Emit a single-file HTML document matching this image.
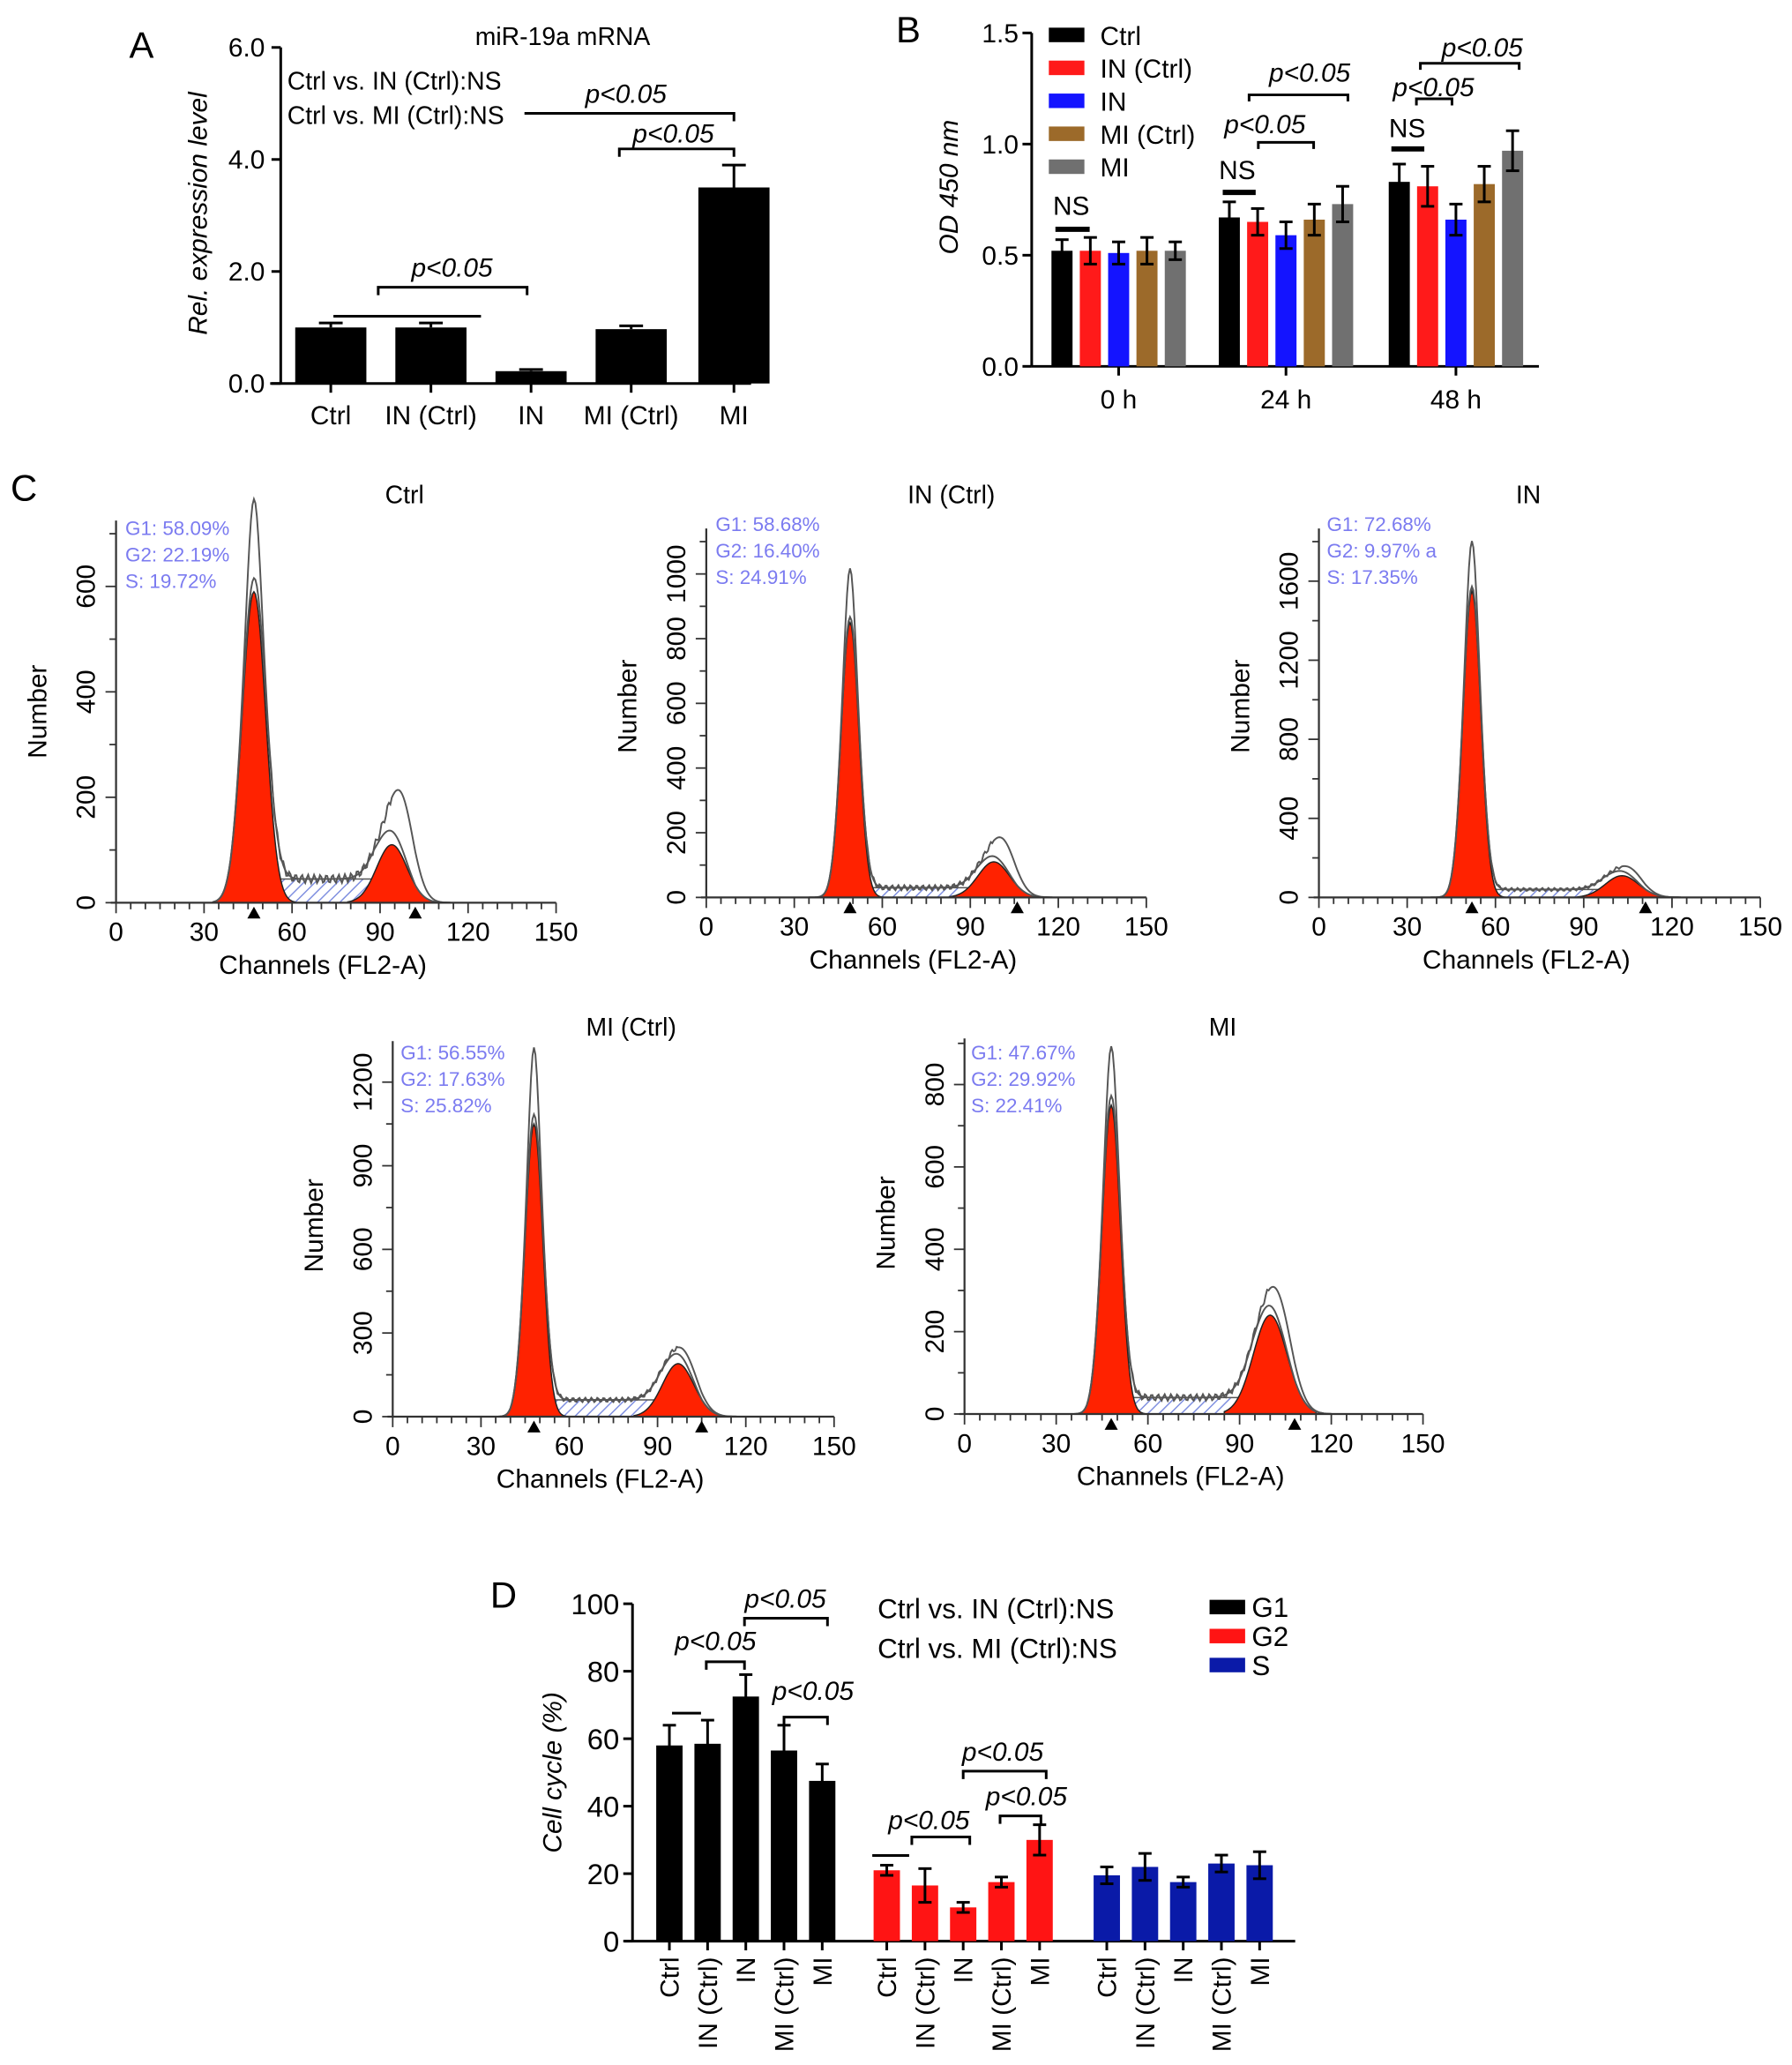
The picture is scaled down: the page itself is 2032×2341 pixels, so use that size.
<!DOCTYPE html>
<html><head><meta charset="utf-8">
<style>
html,body{margin:0;padding:0;background:#fff;}
svg{display:block;font-family:"Liberation Sans",Arial,sans-serif;}
</style></head>
<body>
<svg id="fig" width="2032" height="2341" viewBox="0 0 1360 1567" xmlns="http://www.w3.org/2000/svg">
<defs>
<pattern id="hatch" patternUnits="userSpaceOnUse" width="6" height="6" patternTransform="rotate(45)">
<rect width="6" height="6" fill="#fff"/>
<line x1="0" y1="0" x2="0" y2="6" stroke="#8090e0" stroke-width="2"/>
</pattern>
</defs>
<text x="98" y="44" font-size="28">A</text>
<text x="680" y="32" font-size="28">B</text>
<text x="8" y="380" font-size="28">C</text>
<text x="372" y="1220" font-size="28">D</text>
</svg>
<script>
const NS="http://www.w3.org/2000/svg";
const svg=document.getElementById('fig');
function mk(tag,attrs,parent,txt){const e=document.createElementNS(NS,tag);for(const k in attrs)e.setAttribute(k,attrs[k]);if(txt!==undefined)e.textContent=txt;(parent||svg).appendChild(e);return e;}

/* ---------- Panel A data ---------- */
const aCats=["Ctrl","IN (Ctrl)","IN","MI (Ctrl)","MI"];
const aVals=[1.0,1.0,0.22,0.97,3.5];
const aErrs=[0.08,0.08,0.03,0.06,0.4];
const aTicks=[0,2,4,6];
/* ---------- Panel B data ---------- */
const bGroups=["0 h","24 h","48 h"];
const bSeries=["Ctrl","IN (Ctrl)","IN","MI (Ctrl)","MI"];
const bCtrl=[0.52,0.67,0.83];
const bINc=[0.52,0.65,0.81];
const bIN=[0.51,0.59,0.66];
const bMIc=[0.52,0.66,0.82];
const bMI=[0.52,0.73,0.97];
const bErr=[[0.05,0.07,0.08],[0.06,0.06,0.09],[0.05,0.06,0.07],[0.06,0.07,0.08],[0.04,0.08,0.09]];
const bTicks=[0,0.5,1.0,1.5];
/* ---------- Panel D data ---------- */
const dCats=["Ctrl","IN (Ctrl)","IN","MI (Ctrl)","MI"];
const dG1=[58,58.5,72.5,56.5,47.5];
const dG1e=[6,7,6.5,7.5,5];
const dG2=[21,16.5,10,17.5,30];
const dG2e=[1.5,5,1.5,1.5,4.5];
const dS=[19.5,22,17.5,23,22.5];
const dSe=[2.5,4,1.5,2.5,4];
const dTicks=[0,20,40,60,80,100];
/* ---------- Panel C data ---------- */
const cTitles=["Ctrl","IN (Ctrl)","IN","MI (Ctrl)","MI"];
const cStats=[["G1: 58.09%","G2: 22.19%","S: 19.72%"],["G1: 58.68%","G2: 16.40%","S: 24.91%"],["G1: 72.68%","G2: 9.97% a","S: 17.35%"],["G1: 56.55%","G2: 17.63%","S: 25.82%"],["G1: 47.67%","G2: 29.92%","S: 22.41%"]];
const cG1Mean=[47,49,52,48,48];
const cG1Sd=[4,3,3,3,3];
const cG1Height=[590,850,1550,1050,750];
const cG1Raw=[740,1000,1780,1290,870];
const cG2Mean=[94,98,103,97,100];
const cG2Height=[110,110,110,190,240];
const cG2Raw=[215,190,150,230,310];
const cSLevel=[45,30,40,60,40];
const cYMax=[700,1100,1800,1300,880];
const cYTicks=[[0,200,400,600],[0,200,400,600,800,1000],[0,400,800,1200,1600],[0,300,600,900,1200],[0,200,400,600,800]];
const cXTicks=[0,30,60,90,120,150];

/* ---------- Panel A ---------- */
(function(){
  const x0=213,y0=291,yTop=36,xEnd=570;
  const ys=v=>y0-(v/6)*(y0-yTop);
  const xc=[251,327,403,479,557];
  mk('line',{x1:x0,y1:yTop,x2:x0,y2:y0,stroke:'#000','stroke-width':2});
  mk('line',{x1:205,y1:y0,x2:xEnd,y2:y0,stroke:'#000','stroke-width':2});
  aTicks.forEach(t=>{mk('line',{x1:x0-7,y1:ys(t),x2:x0,y2:ys(t),stroke:'#000','stroke-width':2});
    const l=mk('text',{x:x0-12,y:ys(t)+7,'font-size':20,'text-anchor':'end'},svg,t.toFixed(1));
    
    });
  aVals.forEach((v,i)=>{
    const b=mk('rect',{x:xc[i]-27,y:ys(v),width:54,height:y0-ys(v),fill:'#000'});
    
    
    mk('line',{x1:xc[i],y1:ys(v+aErrs[i]),x2:xc[i],y2:ys(v),stroke:'#000','stroke-width':2});
    mk('line',{x1:xc[i]-9,y1:ys(v+aErrs[i]),x2:xc[i]+9,y2:ys(v+aErrs[i]),stroke:'#000','stroke-width':2});
    mk('line',{x1:xc[i],y1:y0,x2:xc[i],y2:y0+7,stroke:'#000','stroke-width':2});
    const l=mk('text',{x:xc[i],y:322,'font-size':20,'text-anchor':'middle'},svg,aCats[i]);
    
    
  });
  const t=mk('text',{x:427,y:34,'font-size':19,'text-anchor':'middle'},svg,'miR-19a mRNA');
  
  
  const yl=mk('text',{x:0,y:0,'font-size':20,'font-style':'italic','text-anchor':'middle',transform:'translate(157,162) rotate(-90)'},svg,'Rel. expression level');
  
  
  mk('text',{x:218,y:68,'font-size':19},svg,'Ctrl vs. IN (Ctrl):NS');
  mk('text',{x:218,y:94,'font-size':19},svg,'Ctrl vs. MI (Ctrl):NS');
  mk('path',{d:'M253 240 H365',stroke:'#000','stroke-width':2,fill:'none'});
  mk('path',{d:'M287 224 V218 H400 V224',stroke:'#000','stroke-width':2,fill:'none'});
  mk('text',{x:343,y:210,'font-size':20,'font-style':'italic','text-anchor':'middle'},svg,'p<0.05');
  mk('path',{d:'M398 86 H557 V92',stroke:'#000','stroke-width':2,fill:'none'});
  mk('text',{x:475,y:78,'font-size':20,'font-style':'italic','text-anchor':'middle'},svg,'p<0.05');
  mk('path',{d:'M470 119 V113 H557 V119',stroke:'#000','stroke-width':2,fill:'none'});
  mk('text',{x:511,y:108,'font-size':20,'font-style':'italic','text-anchor':'middle'},svg,'p<0.05');
})();

/* ---------- Panel B ---------- */
(function(){
  const x0=783,y0=278,yTop=25,xEnd=1168;
  const ys=v=>y0-(v/1.5)*(y0-yTop);
  const gc=[849,976,1105];
  const cols=['#000','#ff1a1a','#1414ff','#9c6a2a','#707070'];
  const series=[bCtrl,bINc,bIN,bMIc,bMI];
  mk('line',{x1:x0,y1:yTop,x2:x0,y2:y0,stroke:'#000','stroke-width':2});
  mk('line',{x1:x0,y1:y0,x2:xEnd,y2:y0,stroke:'#000','stroke-width':2});
  bTicks.forEach(t=>{mk('line',{x1:x0-7,y1:ys(t),x2:x0,y2:ys(t),stroke:'#000','stroke-width':2});
    const l=mk('text',{x:x0-10,y:ys(t)+7,'font-size':20,'text-anchor':'end'},svg,t.toFixed(1));
    
    });
  bGroups.forEach((g,gi)=>{
    mk('line',{x1:gc[gi],y1:y0,x2:gc[gi],y2:y0+7,stroke:'#000','stroke-width':2});
    const l=mk('text',{x:gc[gi],y:310,'font-size':20,'text-anchor':'middle'},svg,g);
    
    
    series.forEach((s,si)=>{
      const cx=gc[gi]+(si-2)*21.5, v=s[gi], e=bErr[si][gi];
      const b=mk('rect',{x:cx-8,y:ys(v),width:16,height:y0-ys(v),fill:cols[si]});
      
      
      mk('line',{x1:cx,y1:ys(v+e),x2:cx,y2:ys(v-e),stroke:'#000','stroke-width':2});
      mk('line',{x1:cx-5,y1:ys(v+e),x2:cx+5,y2:ys(v+e),stroke:'#000','stroke-width':2});
      mk('line',{x1:cx-5,y1:ys(v-e),x2:cx+5,y2:ys(v-e),stroke:'#000','stroke-width':2});
    });
  });
  bSeries.forEach((s,si)=>{
    const r=mk('rect',{x:796,y:21+si*25,width:27,height:11,fill:cols[si]});
    
    
    const l=mk('text',{x:835,y:34+si*25,'font-size':20},svg,s);
    
    
  });
  const yl=mk('text',{x:0,y:0,'font-size':20,'font-style':'italic','text-anchor':'middle',transform:'translate(727,142) rotate(-90)'},svg,'OD 450 nm');
  
  
  const it=(x,y,t)=>mk('text',{x:x,y:y,'font-size':20,'font-style':'italic','text-anchor':'middle'},svg,t);
  mk('path',{d:'M801 174 H827',stroke:'#000','stroke-width':4});mk('text',{x:813,y:163,'font-size':20,'text-anchor':'middle'},svg,'NS');
  mk('path',{d:'M928 146 H953',stroke:'#000','stroke-width':4});mk('text',{x:939,y:136,'font-size':20,'text-anchor':'middle'},svg,'NS');
  mk('path',{d:'M1056 113 H1081',stroke:'#000','stroke-width':4});mk('text',{x:1068,y:104,'font-size':20,'text-anchor':'middle'},svg,'NS');
  mk('path',{d:'M955 113 V108 H997 V113',stroke:'#000','stroke-width':2,fill:'none'});it(960,101,'p<0.05');
  mk('path',{d:'M948 77 V72 H1023 V77',stroke:'#000','stroke-width':2,fill:'none'});it(994,62,'p<0.05');
  mk('path',{d:'M1075 80 V75 H1102 V80',stroke:'#000','stroke-width':2,fill:'none'});it(1088,73,'p<0.05');
  mk('path',{d:'M1078 53 V48 H1153 V53',stroke:'#000','stroke-width':2,fill:'none'});it(1125,43,'p<0.05');
})();

/* ---------- Panel C ---------- */
const cLayout=[{ax:88,ay:685,w:334,h:290,tx:307,ty:382,stx:95,sty:406},
 {ax:536,ay:681,w:334,h:280,tx:722,ty:382,stx:543,sty:403},
 {ax:1001,ay:681,w:335,h:280,tx:1160,ty:382,stx:1007,sty:403},
 {ax:298,ay:1075,w:335,h:285,tx:479,ty:786,stx:304,sty:804},
 {ax:732,ay:1073,w:348,h:285,tx:928,ty:786,stx:737,sty:804}];
function gauss(x,m,s){return Math.exp(-0.5*((x-m)/s)**2);}
cTitles.forEach((title,p)=>{
  const L=cLayout[p];
  const g=mk('g',{});
  
  
  const xs=c=>L.ax+c/150*L.w;
  const top=L.ay-L.h;
  const ys=v=>L.ay-v/cYMax[p]*(L.h-10);
  const m1=cG1Mean[p],m2=cG2Mean[p],sd1=cG1Sd[p],sd2=m2*0.055;
  const sFn=c=>{const lo=m1,hi=m2;if(c<lo-8||c>hi+8)return 0;return cSLevel[p]*Math.min(1,(c-(lo-8))/14)*Math.min(1,((hi+8)-c)/14);};
  const g1=c=>cG1Height[p]*gauss(c,m1,sd1);
  const g2=c=>cG2Height[p]*gauss(c,m2,sd2);
  let sP=`M${xs(m1-10)} ${L.ay}`,g1P=`M${xs(m1-14)} ${L.ay}`,g2P=`M${xs(m2-15)} ${L.ay}`,tot='',raw='';
  for(let c=m1-14;c<=m2+20;c+=0.5){
    const t=g1(c)+g2(c)+sFn(c);
    tot+=(tot?'L':'M')+xs(c)+' '+ys(t);
    const bump=(cG1Raw[p]-cG1Height[p])*gauss(c,m1,sd1*0.5);
    const bump2=(cG2Raw[p]-cG2Height[p])*gauss(c,m2+4,4);
    raw+=(raw?'L':'M')+xs(c)+' '+ys(t+bump+bump2+(c>m1+5&&c<m2?8*Math.sin(c*3):0));
  }
  for(let c=m1-10;c<=m2+8;c+=0.5)sP+=`L${xs(c)} ${ys(sFn(c))}`;
  sP+=`L${xs(m2+8)} ${L.ay}Z`;
  for(let c=m1-14;c<=m1+14;c+=0.5)g1P+=`L${xs(c)} ${ys(g1(c))}`;g1P+=`L${xs(m1+14)} ${L.ay}Z`;
  for(let c=m2-15;c<=m2+15;c+=0.5)g2P+=`L${xs(c)} ${ys(g2(c))}`;g2P+=`L${xs(m2+15)} ${L.ay}Z`;
  mk('path',{d:sP,fill:'url(#hatch)',stroke:'#555','stroke-width':1},g);
  mk('path',{d:g1P,fill:'#ff2200',stroke:'#222','stroke-width':1},g);
  mk('path',{d:g2P,fill:'#ff2200',stroke:'#222','stroke-width':1},g);
  mk('path',{d:tot,fill:'none',stroke:'#555','stroke-width':1.3},g);
  mk('path',{d:raw,fill:'none',stroke:'#555','stroke-width':1.3},g);
  mk('line',{x1:L.ax,y1:top,x2:L.ax,y2:L.ay,stroke:'#333','stroke-width':1.5},g);
  mk('line',{x1:L.ax-4,y1:L.ay,x2:L.ax+L.w,y2:L.ay,stroke:'#333','stroke-width':1.5},g);
  for(let c=0;c<=150;c+=5){mk('line',{x1:xs(c),y1:L.ay,x2:xs(c),y2:L.ay+(c%30===0?8:5),stroke:'#333','stroke-width':1.2},g);}
  cXTicks.forEach(c=>{const l=mk('text',{x:xs(c),y:L.ay+29,'font-size':20,'text-anchor':'middle'},g,c);
    
    });
  const yt=cYTicks[p];const step=yt[1]/2;
  for(let v=0;ys(v)>=top;v+=step){mk('line',{x1:L.ax-(Math.round(v/step)%2===0?8:5),y1:ys(v),x2:L.ax,y2:ys(v),stroke:'#333','stroke-width':1.2},g);}
  yt.forEach(v=>{const l=mk('text',{x:0,y:0,'font-size':20,'text-anchor':'middle',transform:`translate(${L.ax-16},${ys(v)}) rotate(-90)`},g,v);
    
    });
  mk('path',{d:`M${xs(m1)-5} ${L.ay+12} L${xs(m1)} ${L.ay+3} L${xs(m1)+5} ${L.ay+12}Z`,fill:'#000'},g);
  mk('path',{d:`M${xs(m2+8)-5} ${L.ay+12} L${xs(m2+8)} ${L.ay+3} L${xs(m2+8)+5} ${L.ay+12}Z`,fill:'#000'},g);
  const xt=mk('text',{x:L.ax+L.w/2-10,y:L.ay+54,'font-size':20,'text-anchor':'middle'},g,'Channels (FL2-A)');
  
  
  const ytl=mk('text',{x:0,y:0,'font-size':20,'text-anchor':'middle',transform:`translate(${L.ax-53},${L.ay-145}) rotate(-90)`},g,'Number');
  
  
  const tt=mk('text',{x:L.tx,y:L.ty,'font-size':19,'text-anchor':'middle'},g,title);
  
  
  cStats[p].forEach((s,i)=>{const l=mk('text',{x:L.stx,y:L.sty+i*20,'font-size':15,fill:'#7b7bf0'},g,s);
    
    });
});

/* ---------- Panel D ---------- */
(function(){
  const x0=480,y0=1473,yTop=1217,xEnd=983;
  const ys=v=>y0-(v/100)*(y0-yTop);
  const groups=[[dG1,dG1e,'#000',508],[dG2,dG2e,'#ff1414',673],[dS,dSe,'#0a1aa8',840]];
  mk('line',{x1:x0,y1:yTop,x2:x0,y2:y0,stroke:'#000','stroke-width':2});
  mk('line',{x1:x0-6,y1:y0,x2:xEnd,y2:y0,stroke:'#000','stroke-width':2});
  dTicks.forEach(t=>{mk('line',{x1:x0-7,y1:ys(t),x2:x0,y2:ys(t),stroke:'#000','stroke-width':2});
    const l=mk('text',{x:x0-10,y:ys(t)+8,'font-size':22,'text-anchor':'end'},svg,t);
    
    });
  groups.forEach(([vals,errs,col,start])=>{
    vals.forEach((v,i)=>{
      const cx=start+i*29;
      const b=mk('rect',{x:cx-10,y:ys(v),width:20,height:y0-ys(v),fill:col});
      
      
      const e=errs[i];
      mk('line',{x1:cx,y1:ys(v+e),x2:cx,y2:ys(v-e),stroke:'#000','stroke-width':2});
      mk('line',{x1:cx-5,y1:ys(v+e),x2:cx+5,y2:ys(v+e),stroke:'#000','stroke-width':2});
      mk('line',{x1:cx-5,y1:ys(v-e),x2:cx+5,y2:ys(v-e),stroke:'#000','stroke-width':2});
      mk('line',{x1:cx,y1:y0,x2:cx,y2:y0+7,stroke:'#000','stroke-width':2});
      const l=mk('text',{x:0,y:0,'font-size':20,'text-anchor':'end',transform:`translate(${cx+7},${y0+12}) rotate(-90)`},svg,dCats[i]);
      
      
    });
  });
  const yl=mk('text',{x:0,y:0,'font-size':20,'font-style':'italic','text-anchor':'middle',transform:'translate(426,1345) rotate(-90)'},svg,'Cell cycle (%)');
  
  
  mk('text',{x:666,y:1228,'font-size':21},svg,'Ctrl vs. IN (Ctrl):NS');
  mk('text',{x:666,y:1258,'font-size':21},svg,'Ctrl vs. MI (Ctrl):NS');
  [['G1','#000'],['G2','#ff1414'],['S','#0a1aa8']].forEach(([n,c],i)=>{
    const r=mk('rect',{x:918,y:1214+i*22,width:27,height:11,fill:c});
    
    
    const l=mk('text',{x:950,y:1227+i*22,'font-size':21},svg,n);
    
    
  });
  const it=(x,y,t)=>mk('text',{x:x,y:y,'font-size':20,'font-style':'italic','text-anchor':'middle'},svg,t);
  mk('path',{d:'M510 1300 H532',stroke:'#000','stroke-width':2});
  mk('path',{d:'M536 1267 V1261 H565 V1267',stroke:'#000','stroke-width':2,fill:'none'});it(543,1252,'p<0.05');
  mk('path',{d:'M565 1234 V1228 H628 V1234',stroke:'#000','stroke-width':2,fill:'none'});it(596,1220,'p<0.05');
  mk('path',{d:'M595 1309 V1303 H628 V1309',stroke:'#000','stroke-width':2,fill:'none'});it(617,1290,'p<0.05');
  mk('path',{d:'M662 1408 H690',stroke:'#000','stroke-width':2});
  mk('path',{d:'M692 1400 V1394 H736 V1400',stroke:'#000','stroke-width':2,fill:'none'});it(705,1388,'p<0.05');
  mk('path',{d:'M731 1350 V1344 H794 V1350',stroke:'#000','stroke-width':2,fill:'none'});it(761,1336,'p<0.05');
  mk('path',{d:'M759 1384 V1378 H790 V1384',stroke:'#000','stroke-width':2,fill:'none'});it(779,1370,'p<0.05');
})();
</script>
</body></html>
